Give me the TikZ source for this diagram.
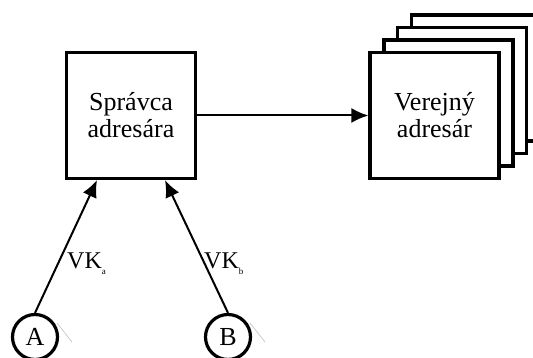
\documentclass[tikz,border=0pt]{standalone}
\usepackage{fontspec}
\setmainfont{Liberation Serif}
\usetikzlibrary{arrows.meta}
\begin{document}
\begin{tikzpicture}[x=1pt,y=-1pt,
  box/.style={draw,line width=3.2pt,fill=white,minimum width=129pt,minimum height=126pt,inner sep=0pt,
    align=center,font=\fontsize{26}{27}\selectfont},
  circ/.style={draw,circle,line width=3.2pt,minimum size=45pt,inner sep=0pt,font=\fontsize{26}{26}\selectfont},
  conn/.style={line width=2pt,-{Latex[length=17pt,width=15pt]}},
  lbl/.style={font=\fontsize{24}{24}\selectfont,inner sep=0pt}]
\useasboundingbox (0,0) rectangle (533,358);
\clip (0,0) rectangle (533,358);
% stacked boxes (back to front)
\node[box] (v4) at (476,78) {};
\node[box] (v3) at (462,90.5) {};
\node[box] (v2) at (448.5,103) {};
\node[box] (v1) at (434.5,115.5) {Verejný\\adresár};
\node[box] (spr) at (131,115.5) {Správca\\adresára};
% circles
\node[circ] (A) at (35,337) {A};
\node[circ] (B) at (228,337) {B};
% faint grey marks
\draw[gray!50,line width=0.6pt] (57,323) -- (72,342);
\draw[gray!50,line width=0.6pt] (250,323) -- (265,342);
% connection points
\coordinate (sa) at ([xshift=-34pt]spr.south);
\coordinate (sb) at ([xshift=34pt]spr.south);
\draw[conn] (spr.east) -- (v1.west);
\draw[conn] (A.north) -- (sa);
\draw[conn] (B.north) -- (sb);
% labels
\node[lbl,anchor=base west] (la) at (67,269) {VK\raisebox{-6pt}{\fontsize{9}{9}\selectfont a}};
\node[lbl,anchor=base west] (lb) at (204,269) {VK\raisebox{-6pt}{\fontsize{9}{9}\selectfont b}};
\end{tikzpicture}
\end{document}
